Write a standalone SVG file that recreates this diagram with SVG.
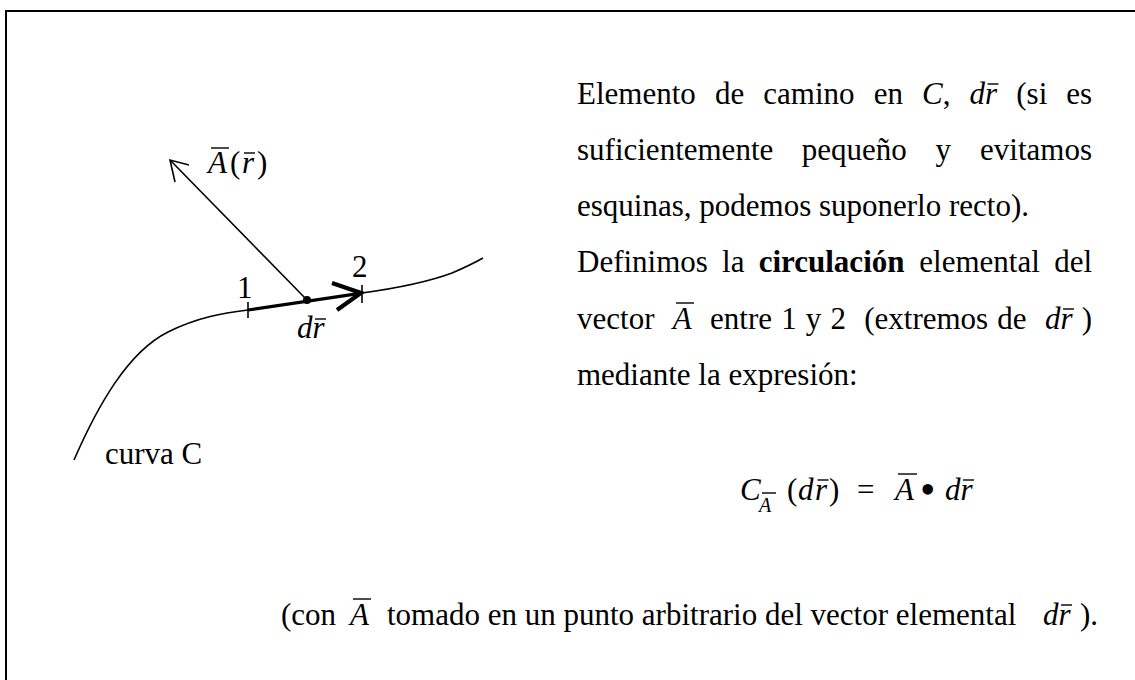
<svg xmlns="http://www.w3.org/2000/svg" width="1135" height="680" viewBox="0 0 1135 680">
<style>
.t{font-family:"Liberation Serif","Times New Roman",serif;font-size:31px;fill:#000}
.i{font-style:italic}
.b{font-weight:bold}
.sub{font-size:20px}
.bar{stroke:#000;stroke-width:1.4}
.thin{fill:none;stroke:#000;stroke-width:1.6}
.bold{fill:none;stroke:#000;stroke-width:3.2}
.head{fill:none;stroke:#000;stroke-width:4.2;stroke-linecap:butt}
.tick{stroke:#000;stroke-width:1.6}
</style>
<rect width="1135" height="680" fill="#fff"/>
<path d="M6,680 V11 H1135" fill="none" stroke="#000" stroke-width="2"/>

<g id="curve">
<path class="thin" d="M74,460 C98,405 128,352 168,332 C198,317 224,313 248,310"/>
<path class="thin" d="M362,293 C398,288 428,282 452,273 C466,267 476,262 483,258"/>
<line class="tick" x1="248" y1="302" x2="248" y2="318"/>
<line class="tick" x1="362" y1="285" x2="362" y2="303"/>
</g>

<g id="connectors">
<line class="bold" x1="248" y1="310" x2="360" y2="293.3"/>
<polyline class="head" points="332,283 361,293 337,310"/>
<line class="thin" x1="307" y1="300" x2="171" y2="161"/>
<polyline class="thin" points="189,165 170,160 175,182"/>
<circle cx="307" cy="300" r="4" fill="#000"/>
</g>

<g id="labels">
<text class="t i" x="208" y="173">A</text>
<line class="bar" x1="211" y1="148" x2="229" y2="148"/>
<text class="t" x="230" y="173">(</text>
<text class="t i" x="242" y="173">r</text>
<line class="bar" x1="244" y1="153" x2="255" y2="153"/>
<text class="t" x="257" y="173">)</text>
<text class="t" x="237" y="298">1</text>
<text class="t" x="352" y="277">2</text>
<text class="t i" x="297" y="338">d</text>
<text class="t i" x="312.5" y="338">r</text>
<line class="bar" x1="315" y1="319" x2="326" y2="319"/>
<text class="t" x="105" y="464">curva C</text>
</g>

<g id="paragraph">
<text class="t" x="577" y="104">Elemento</text>
<text class="t" x="714.9" y="104">de</text>
<text class="t" x="763.3" y="104">camino</text>
<text class="t" x="873.7" y="104">en</text>
<text class="t" x="922.1" y="104"><tspan class="i">C</tspan>,</text>
<text class="t i" x="969.6" y="104">d</text>
<text class="t i" x="985.1" y="104">r</text>
<line class="bar" x1="987.5" y1="84" x2="998.5" y2="84"/>
<text class="t" x="1016.3" y="104">(si</text>
<text class="t" x="1092" y="104" text-anchor="end">es</text>

<text class="t" x="577" y="160">suficientemente</text>
<text class="t" x="801.8" y="160">pequeño</text>
<text class="t" x="935.6" y="160">y</text>
<text class="t" x="1092" y="160" text-anchor="end">evitamos</text>

<text class="t" x="577" y="216">esquinas, podemos suponerlo recto).</text>

<text class="t" x="577" y="272">Definimos</text>
<text class="t" x="722.1" y="272">la</text>
<text class="t b" x="758.7" y="272">circulación</text>
<text class="t" x="919.3" y="272">elemental</text>
<text class="t" x="1092" y="272" text-anchor="end">del</text>

<text class="t" x="577" y="329">vector</text>
<text class="t i" x="672.8" y="329">A</text>
<line class="bar" x1="676" y1="303" x2="694" y2="303"/>
<text class="t" x="710.1" y="329">entre</text>
<text class="t" x="781.2" y="329">1</text>
<text class="t" x="805.8" y="329">y</text>
<text class="t" x="830.4" y="329">2</text>
<text class="t" x="864.2" y="329">(extremos</text>
<text class="t" x="997.3" y="329">de</text>
<text class="t i" x="1044.9" y="329">d</text>
<text class="t i" x="1060.4" y="329">r</text>
<line class="bar" x1="1063" y1="309" x2="1074" y2="309"/>
<text class="t" x="1092" y="329" text-anchor="end">)</text>

<text class="t" x="577" y="385">mediante la expresión:</text>
</g>

<g id="formula">
<text class="t i" x="740" y="500">C</text>
<text class="t i sub" x="759" y="512">A</text>
<line class="bar" x1="762" y1="493" x2="776" y2="493"/>
<text class="t" x="787" y="500">(</text>
<text class="t i" x="798" y="500">d</text>
<text class="t i" x="815" y="500">r</text>
<line class="bar" x1="817.5" y1="480" x2="828.5" y2="480"/>
<text class="t" x="829" y="500">)</text>
<text class="t" x="857" y="500">=</text>
<text class="t i" x="895" y="500">A</text>
<line class="bar" x1="898" y1="474" x2="917" y2="474"/>
<text class="t" x="920" y="504" style="font-size:44px">•</text>
<text class="t i" x="945" y="500">d</text>
<text class="t i" x="960.5" y="500">r</text>
<line class="bar" x1="963" y1="480" x2="974" y2="480"/>
</g>

<g id="note">
<text class="t" x="281" y="625">(con</text>
<text class="t i" x="350" y="625">A</text>
<line class="bar" x1="353" y1="599" x2="371" y2="599"/>
<text class="t" x="387" y="625">tomado en un punto arbitrario del vector elemental</text>
<text class="t i" x="1043" y="625">d</text>
<text class="t i" x="1058.5" y="625">r</text>
<line class="bar" x1="1061" y1="605" x2="1072" y2="605"/>
<text class="t" x="1080" y="625">).</text>
</g>
</svg>
